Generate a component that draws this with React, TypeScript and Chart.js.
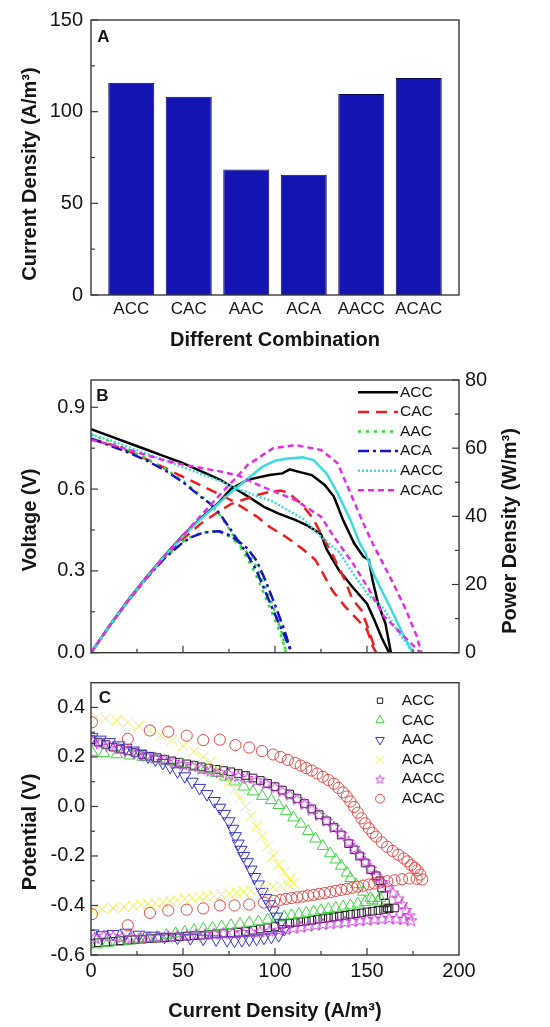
import React, { useEffect, useRef } from 'react';
import { Chart, registerables } from 'chart.js';
import { drawPoint } from 'chart.js/helpers';

Chart.register(...registerables);

const FONT = "'Liberation Sans', Arial, Helvetica, sans-serif";
const TEXT = '#151515';

// ---------------- Panel A data ----------------
const comboLabels = ['ACC', 'CAC', 'AAC', 'ACA', 'AACC', 'ACAC'];
const comboPositions = [1, 2, 3, 4, 5, 6];
const comboCurrent = [115.8, 108.2, 68.5, 65.6, 109.6, 118.3];
const aTickValues = [0, 50, 100, 150];
const aTickLabels = ['0', '50', '100', '150'];
const aMinorTicks = [25, 75, 125];

// ---------------- Panel B data (x = current density, y = voltage / power) ----------------
const sampleNames = ['ACC', 'CAC', 'AAC', 'ACA', 'AACC', 'ACAC'];

const accVoltage = [[0,0.82],[10,0.795],[20,0.77],[30,0.745],[40,0.72],[50,0.695],[60,0.665],[70,0.635],[78,0.603],[86,0.57],[94,0.535],[102,0.51],[111,0.487],[118,0.465],[125,0.435],[128,0.38],[131,0.345],[135,0.3],[142,0.242],[150,0.18],[154,0.12],[158,0.055],[162,0]];
const accPower = [[0,0],[10,7.9],[20,15.3],[30,22.1],[40,28.5],[50,34.4],[60,39.6],[70,44.3],[76,48],[85,50.7],[97,52.1],[104,52.6],[108,53.8],[112,53.2],[120,52.1],[127,49.2],[132,45.8],[137,38.9],[143,32.1],[148,28.2],[151,27.2],[153,21.3],[156,14.5],[160,8.6],[163,0]];

const cacVoltage = [[0,0.785],[10,0.765],[20,0.74],[30,0.71],[40,0.678],[50,0.645],[60,0.613],[70,0.58],[76,0.56],[90,0.5],[97,0.462],[107,0.42],[115,0.38],[122,0.34],[131,0.23],[138,0.17],[145,0.12],[150,0.085],[153,0.025],[155,0]];
const cacPower = [[0,0],[10,7.8],[20,15.1],[30,21.8],[40,28],[50,33.4],[60,38],[70,41.6],[76,43.6],[90,46.2],[97,47.2],[103,47.6],[107,47],[114,43.8],[120,39.9],[125,35],[131,29],[138,21.3],[142,15.7],[147,12.5],[151,6.6],[155,0]];

const aacVoltage = [[0,0.8],[10,0.775],[20,0.745],[30,0.712],[40,0.675],[50,0.63],[60,0.575],[65,0.545],[70,0.505],[75,0.455],[80,0.4],[85,0.345],[90,0.28],[95,0.2],[100,0.12],[104,0.05],[106,0]];
const aacPower = [[0,0],[10,7.8],[20,15.1],[30,21.8],[40,27.8],[50,32.6],[55,34.2],[60,35.2],[65,35.6],[70,35.4],[75,34.1],[80,32],[85,29.3],[90,25.2],[95,19],[100,12],[104,5.2],[106,0]];

const acaVoltage = [[0,0.785],[10,0.76],[20,0.735],[30,0.705],[40,0.67],[50,0.625],[60,0.57],[65,0.545],[70,0.51],[75,0.46],[80,0.41],[85,0.36],[90,0.3],[95,0.22],[100,0.14],[105,0.065],[109,0]];
const acaPower = [[0,0],[10,7.8],[20,15.1],[30,21.8],[40,27.7],[50,32.4],[55,34],[60,35],[65,35.5],[70,35.6],[75,34.5],[80,32.8],[85,30.6],[90,27],[95,21],[100,14],[105,6.8],[109,0]];

const aaccVoltage = [[0,0.8],[10,0.78],[20,0.755],[30,0.73],[40,0.705],[50,0.68],[60,0.655],[70,0.63],[81,0.597],[99,0.554],[116,0.487],[125,0.425],[135,0.368],[142,0.294],[151,0.209],[158,0.172],[166,0.086],[175,0]];
const aaccPower = [[0,0],[10,7.9],[20,15.2],[30,22],[40,28.4],[50,34.2],[60,39.4],[70,44.1],[76,47],[84,50.5],[93,54.5],[100,56.3],[107,57],[115,57.3],[121,56.5],[128,52.6],[134,46.8],[141,38.9],[146,32.2],[149,29.4],[154,22.6],[163,12.8],[170,4.9],[175,0]];

const acacVoltage = [[0,0.78],[10,0.765],[20,0.745],[30,0.725],[40,0.705],[50,0.69],[60,0.677],[70,0.665],[80,0.65],[93,0.609],[111,0.56],[125,0.499],[132,0.425],[142,0.331],[151,0.233],[159,0.135],[170,0.061],[179,0]];
const acacPower = [[0,0],[10,7.8],[20,15.1],[30,21.9],[40,28.3],[50,34.4],[60,40.4],[70,46.3],[80,52],[85,55],[99,60],[111,60.9],[125,59.5],[134,55.6],[141,46.8],[148,38],[153,32.1],[156,29],[164,20.6],[171,12.8],[177,4.9],[179.5,0]];

const bVoltTicks = [0, 0.3, 0.6, 0.9];
const bVoltTickLabels = ['0.0', '0.3', '0.6', '0.9'];
const bVoltMinor = [0.15, 0.45, 0.75];
const bPowerTicks = [0, 20, 40, 60, 80];
const bPowerTickLabels = ['0', '20', '40', '60', '80'];
const bPowerMinor = [10, 30, 50, 70];

// ---------------- Panel C data (x = current density, y = potential) ----------------
const accPotential = [[0,0.27],[4,0.26],[8,0.25],[12,0.24],[16,0.232],[20,0.225],[24,0.218],[28,0.21],[32,0.203],[36,0.197],[40,0.19],[44,0.184],[48,0.178],[52,0.172],[56,0.166],[60,0.16],[64,0.155],[68,0.15],[72,0.145],[76,0.14],[80,0.133],[84,0.125],[88,0.115],[92,0.105],[96,0.093],[100,0.08],[104,0.066],[108,0.05],[112,0.032],[116,0.012],[120,-0.01],[124,-0.033],[128,-0.058],[132,-0.085],[136,-0.115],[140,-0.15],[143,-0.175],[146,-0.2],[149,-0.228],[152,-0.255],[155,-0.28],[157,-0.3],[158,-0.33],[159,-0.36],[160,-0.39],[161,-0.41],[165,-0.41],[162,-0.413],[159,-0.416],[156,-0.42],[153,-0.423],[150,-0.426],[147,-0.43],[144,-0.433],[141,-0.436],[138,-0.44],[135,-0.443],[132,-0.446],[129,-0.45],[126,-0.453],[123,-0.456],[120,-0.46],[117,-0.463],[114,-0.466],[111,-0.469],[108,-0.472],[104,-0.475],[100,-0.485],[96,-0.49],[92,-0.495],[88,-0.5],[84,-0.505],[80,-0.508],[76,-0.51],[72,-0.512],[68,-0.515],[64,-0.517],[60,-0.52],[56,-0.522],[52,-0.524],[48,-0.526],[44,-0.528],[40,-0.53],[36,-0.532],[32,-0.534],[28,-0.536],[24,-0.538],[20,-0.54],[16,-0.542],[12,-0.545],[8,-0.548],[4,-0.55],[0,-0.553]];

const cacPotential = [[0.5,0.22],[7,0.215],[14,0.21],[21,0.205],[28,0.2],[35,0.192],[42,0.183],[49,0.172],[56,0.16],[62,0.148],[68,0.135],[73,0.12],[78,0.1],[83,0.08],[88,0.06],[93,0.042],[98,0.025],[102,0.005],[106,-0.02],[110,-0.045],[114,-0.07],[118,-0.1],[122,-0.13],[126,-0.16],[130,-0.19],[133,-0.215],[136,-0.24],[139,-0.268],[141,-0.29],[144,-0.315],[148,-0.345],[152,-0.37],[156,-0.385],[157,-0.37],[153,-0.38],[149,-0.387],[145,-0.393],[141,-0.4],[137,-0.405],[133,-0.41],[129,-0.415],[125,-0.42],[121,-0.425],[117,-0.43],[113,-0.435],[109,-0.44],[105,-0.445],[101,-0.45],[96,-0.458],[91,-0.465],[86,-0.47],[81,-0.475],[76,-0.48],[71,-0.485],[66,-0.49],[61,-0.495],[56,-0.5],[51,-0.507],[46,-0.513],[41,-0.52],[36,-0.527],[31,-0.533],[26,-0.538],[21,-0.543],[15,-0.548],[9,-0.553],[3,-0.558]];

const aacPotential = [[0.5,0.28],[5,0.27],[10,0.26],[15,0.247],[19,0.237],[23,0.226],[27,0.214],[31,0.202],[35,0.19],[39,0.176],[43,0.16],[47,0.142],[51,0.122],[55,0.1],[59,0.075],[63,0.05],[67,0.022],[70,-0.005],[72.5,-0.03],[75,-0.06],[77,-0.09],[78.5,-0.12],[80,-0.15],[81.5,-0.175],[83,-0.2],[85,-0.225],[87,-0.255],[89,-0.285],[91,-0.315],[93,-0.345],[95,-0.37],[97,-0.395],[99,-0.42],[101,-0.445],[103,-0.47],[105,-0.495],[102,-0.52],[98,-0.526],[94,-0.53],[90,-0.534],[86,-0.537],[82,-0.54],[78,-0.542],[74,-0.54],[68,-0.537],[61,-0.534],[54,-0.532],[47,-0.53],[40,-0.526],[33,-0.522],[26,-0.518],[19,-0.51],[12,-0.515],[6,-0.52],[1,-0.513]];

const acaPotential = [[3,0.36],[8,0.355],[14,0.348],[20,0.34],[26,0.325],[32,0.307],[38,0.287],[44,0.267],[50,0.245],[56,0.222],[61,0.2],[65,0.18],[69,0.15],[72,0.128],[75,0.1],[78,0.068],[81,0.035],[84,0],[87,-0.04],[90,-0.08],[93,-0.12],[96,-0.16],[99,-0.2],[102,-0.235],[105,-0.265],[108,-0.295],[110,-0.31],[107,-0.315],[103,-0.32],[99,-0.325],[95,-0.33],[91,-0.335],[87,-0.34],[83,-0.344],[79,-0.348],[75,-0.352],[71,-0.356],[67,-0.36],[63,-0.363],[59,-0.366],[55,-0.37],[51,-0.374],[47,-0.378],[43,-0.382],[39,-0.386],[35,-0.39],[31,-0.394],[27,-0.398],[23,-0.402],[18,-0.406],[12,-0.41],[6,-0.415],[1,-0.42]];

const aaccPotential = [[1,0.263],[5,0.255],[10,0.245],[15,0.235],[20,0.225],[25,0.215],[30,0.205],[35,0.197],[40,0.188],[45,0.18],[50,0.171],[55,0.162],[60,0.153],[65,0.145],[70,0.138],[75,0.13],[80,0.123],[85,0.115],[90,0.105],[95,0.093],[100,0.077],[104,0.062],[108,0.047],[112,0.03],[116,0.01],[120,-0.012],[124,-0.034],[128,-0.057],[132,-0.082],[136,-0.11],[140,-0.142],[143,-0.168],[146,-0.195],[149,-0.223],[152,-0.25],[155,-0.28],[158,-0.305],[161,-0.327],[164,-0.348],[167,-0.372],[169,-0.395],[171,-0.418],[173,-0.44],[174,-0.46],[170,-0.455],[166,-0.453],[162,-0.45],[158,-0.453],[154,-0.455],[150,-0.457],[146,-0.46],[142,-0.463],[138,-0.466],[134,-0.469],[130,-0.472],[126,-0.475],[122,-0.478],[118,-0.482],[114,-0.486],[110,-0.49],[106,-0.494],[102,-0.498],[97,-0.502],[92,-0.505],[87,-0.507],[82,-0.508],[77,-0.51],[72,-0.512],[67,-0.514],[62,-0.516],[57,-0.518],[52,-0.52],[47,-0.522],[42,-0.525],[37,-0.527],[32,-0.528],[27,-0.53],[22,-0.53],[17,-0.527],[12,-0.524],[7,-0.522],[2,-0.53]];

const acacPotential = [[0.5,0.34],[20,0.273],[32,0.307],[42,0.302],[52,0.286],[61,0.268],[70,0.27],[78.5,0.248],[86,0.238],[93,0.224],[99,0.21],[103,0.2],[107,0.188],[111,0.176],[114,0.165],[117,0.155],[120,0.145],[123,0.133],[126,0.12],[129,0.107],[132,0.092],[134.5,0.075],[137,0.057],[139,0.04],[141,0.02],[143,-0.002],[145,-0.025],[147,-0.048],[149,-0.068],[151,-0.088],[153,-0.106],[155,-0.122],[158,-0.145],[161,-0.163],[164,-0.18],[167,-0.195],[170,-0.21],[172,-0.222],[174,-0.237],[176,-0.248],[177.5,-0.258],[179,-0.275],[180,-0.295],[177,-0.292],[173,-0.291],[169,-0.294],[165,-0.298],[161,-0.302],[157,-0.307],[154,-0.311],[151,-0.315],[148,-0.32],[145,-0.324],[142,-0.328],[139,-0.333],[136,-0.337],[133,-0.341],[130,-0.346],[127,-0.35],[124,-0.353],[121,-0.357],[118,-0.36],[115,-0.364],[112,-0.367],[109,-0.37],[106,-0.373],[103,-0.377],[99.5,-0.381],[94,-0.388],[86,-0.396],[78,-0.4],[70,-0.4],[61,-0.412],[52,-0.417],[42,-0.42],[32,-0.43],[20,-0.48],[0.5,-0.435]];

const cYTicks = [-0.6, -0.4, -0.2, 0, 0.2, 0.4];
const cYTickLabels = ['-0.6', '-0.4', '-0.2', '0.0', '0.2', '0.4'];
const cYMinor = [-0.5, -0.3, -0.1, 0.1, 0.3];
const xTicks = [0, 50, 100, 150, 200];
const xTickLabels = ['0', '50', '100', '150', '200'];
const xMinor = [25, 75, 125, 175];
const xMajorInner = [50, 100, 150];

// ---------------- styles ----------------
const lineColors = ['#000000', '#f01c1c', '#33dd33', '#1414c4', '#3cdcdc', '#e22ee2'];
const lineDashes = [[], [11, 7], [3, 5], [11, 4, 3, 4], [2, 2], [6, 4]];
const powerDashes = [[], [11, 7], [3, 5], [11, 4, 3, 4], [], [6, 4]];
const markerColors = ['#1a1a1a', '#3fd43f', '#3434cc', '#eeee3c', '#c63cd8', '#e04848'];

const toXY = (pts: number[][]) => pts.map(p => ({ x: p[0], y: p[1] }));

function makeStar(color: string, size: number, rOut: number, rIn: number) {
  const c = document.createElement('canvas');
  c.width = size; c.height = size;
  const g = c.getContext('2d')!;
  g.strokeStyle = color; g.lineWidth = 1;
  g.beginPath();
  for (let k = 0; k < 10; k++) {
    const r = k % 2 ? rIn : rOut;
    const a = -Math.PI / 2 + (k * Math.PI) / 5;
    const px = size / 2 + r * Math.cos(a), py = size / 2 + 0.5 + r * Math.sin(a);
    if (k === 0) g.moveTo(px, py); else g.lineTo(px, py);
  }
  g.closePath(); g.stroke();
  return c;
}

type TextItem = { text: string; x: number; y: number; size: number; bold?: boolean; rotate?: boolean };
type TickSet = { scale: string; side: 'left' | 'right' | 'bottom'; values: number[]; len: number };

function makeDecor(cfg: { ticks: TickSet[]; texts: TextItem[]; lineLegend?: any; pointLegend?: any }) {
  return {
    id: 'decor',
    afterDatasetsDraw(chart: any) {
      const { ctx, chartArea: ca } = chart;
      ctx.save();
      ctx.strokeStyle = '#3a3a3a';
      ctx.lineWidth = 1.4;
      ctx.setLineDash([]);
      ctx.strokeRect(ca.left, ca.top, ca.right - ca.left, ca.bottom - ca.top);
      ctx.lineWidth = 1.2;
      for (const t of cfg.ticks) {
        const s = chart.scales[t.scale];
        for (const v of t.values) {
          const p = s.getPixelForValue(v);
          ctx.beginPath();
          if (t.side === 'left') { ctx.moveTo(ca.left, p); ctx.lineTo(ca.left + t.len, p); }
          else if (t.side === 'right') { ctx.moveTo(ca.right, p); ctx.lineTo(ca.right - t.len, p); }
          else { ctx.moveTo(p, ca.bottom); ctx.lineTo(p, ca.bottom - t.len); }
          ctx.stroke();
        }
      }
      ctx.fillStyle = TEXT;
      for (const tx of cfg.texts) {
        ctx.save();
        ctx.font = `${tx.bold ? 'bold ' : ''}${tx.size}px ${FONT}`;
        ctx.textAlign = 'center';
        ctx.textBaseline = 'middle';
        ctx.translate(tx.x, tx.y);
        if (tx.rotate) ctx.rotate(-Math.PI / 2);
        ctx.fillText(tx.text, 0, 0);
        ctx.restore();
      }
      const L = cfg.lineLegend;
      if (L) {
        chart.data.datasets.slice(0, L.count).forEach((ds: any, i: number) => {
          const y = L.y0 + i * L.dy;
          ctx.save();
          ctx.strokeStyle = ds.borderColor;
          ctx.lineWidth = ds.borderWidth;
          ctx.setLineDash(ds.borderDash || []);
          ctx.beginPath(); ctx.moveTo(L.x0, y); ctx.lineTo(L.x1, y); ctx.stroke();
          ctx.restore();
          ctx.font = `${L.size}px ${FONT}`;
          ctx.textAlign = 'left'; ctx.textBaseline = 'middle';
          ctx.fillStyle = TEXT;
          ctx.fillText(ds.label, L.tx, y);
        });
      }
      const P = cfg.pointLegend;
      if (P) {
        chart.data.datasets.forEach((ds: any, i: number) => {
          const y = P.y0 + i * P.dy;
          ctx.save();
          ctx.strokeStyle = ds.borderColor;
          ctx.fillStyle = 'rgba(0,0,0,0)';
          ctx.lineWidth = 1;
          drawPoint(ctx, { pointStyle: ds.legendStyle || ds.pointStyle, rotation: ds.pointRotation || 0, radius: ds.legendRadius, borderWidth: 1 } as any, P.mx, y);
          ctx.restore();
          ctx.font = `${P.size}px ${FONT}`;
          ctx.textAlign = 'left'; ctx.textBaseline = 'middle';
          ctx.fillStyle = TEXT;
          ctx.fillText(ds.label, P.tx, y);
        });
      }
      ctx.restore();
    },
  };
}

const tickFont = { family: FONT, size: 20 };
const titleFont = { family: FONT, size: 20, weight: 'bold' as const };
const hidden = { display: false, drawTicks: false };

export default function App() {
  const aRef = useRef<HTMLCanvasElement>(null);
  const bRef = useRef<HTMLCanvasElement>(null);
  const cRef = useRef<HTMLCanvasElement>(null);

  useEffect(() => {
    const charts: Chart[] = [];

    // ---------- Panel A ----------
    charts.push(new Chart(aRef.current!, {
      type: 'bar',
      data: {
        datasets: [{
          label: 'Current Density',
          data: comboPositions.map((x, i) => ({ x, y: comboCurrent[i] })),
          backgroundColor: '#1414b2',
          borderColor: '#0a0a50',
          borderWidth: 1,
          categoryPercentage: 1,
          barPercentage: 0.8,
        }],
      },
      options: {
        responsive: false,
        animation: false,
        events: [],
        layout: { padding: { top: 19, right: 91, left: 0, bottom: 0 } },
        plugins: { legend: { display: false }, tooltip: { enabled: false } },
        scales: {
          x: {
            type: 'linear', min: 0.3, max: 6.7, offset: false,
            grid: hidden, border: { display: false },
            afterBuildTicks: (s: any) => { s.ticks = comboPositions.map(v => ({ value: v })); },
            ticks: { callback: (_v: any, i: number) => comboLabels[i], font: { family: FONT, size: 17 }, color: TEXT, padding: 4, maxRotation: 0, autoSkip: false },
            title: { display: true, text: 'Different Combination', font: titleFont, color: TEXT, padding: { top: 0, bottom: 0 } },
            afterFit: (s: any) => { s.height = 57; },
          },
          y: {
            min: 0, max: 150,
            grid: hidden, border: { display: false },
            afterBuildTicks: (s: any) => { s.ticks = aTickValues.map(v => ({ value: v })); },
            ticks: { callback: (_v: any, i: number) => aTickLabels[i], font: tickFont, color: TEXT, padding: 8, autoSkip: false },
            afterFit: (s: any) => { s.width = 91; },
          },
        },
      } as any,
      plugins: [makeDecor({
        ticks: [
          { scale: 'y', side: 'left', values: aTickValues, len: 7 },
          { scale: 'y', side: 'left', values: aMinorTicks, len: 4 },
        ],
        texts: [
          { text: 'A', x: 103.5, y: 37.5, size: 17, bold: true },
          { text: 'Current Density (A/m³)', x: 30, y: 174, size: 20, bold: true, rotate: true },
        ],
      })],
    }));

    // ---------- Panel B ----------
    const voltSets = [accVoltage, cacVoltage, aacVoltage, acaVoltage, aaccVoltage, acacVoltage];
    const powerSets = [accPower, cacPower, aacPower, acaPower, aaccPower, acacPower];
    const bDatasets: any[] = [];
    voltSets.forEach((pts, i) => bDatasets.push({
      label: sampleNames[i], data: toXY(pts), yAxisID: 'y', showLine: true, pointRadius: 0,
      borderColor: lineColors[i], backgroundColor: lineColors[i], borderWidth: 2.5, borderDash: lineDashes[i], order: 6 - i,
    }));
    powerSets.forEach((pts, i) => bDatasets.push({
      label: sampleNames[i] + ' power', data: toXY(pts), yAxisID: 'y1', showLine: true, pointRadius: 0,
      borderColor: lineColors[i], backgroundColor: lineColors[i], borderWidth: 2.5, borderDash: powerDashes[i], order: 6 - i,
    }));
    charts.push(new Chart(bRef.current!, {
      type: 'scatter',
      data: { datasets: bDatasets },
      options: {
        responsive: false,
        animation: false,
        events: [],
        layout: { padding: { top: 28, right: 0, left: 0, bottom: 29.3 } },
        plugins: { legend: { display: false }, tooltip: { enabled: false } },
        scales: {
          x: { type: 'linear', min: 0, max: 200, display: false },
          y: {
            position: 'left', min: 0, max: 1.0,
            grid: hidden, border: { display: false },
            afterBuildTicks: (s: any) => { s.ticks = bVoltTicks.map(v => ({ value: v })); },
            ticks: { callback: (_v: any, i: number) => bVoltTickLabels[i], font: tickFont, color: TEXT, padding: 6, autoSkip: false },
            afterFit: (s: any) => { s.width = 91; },
          },
          y1: {
            type: 'linear', position: 'right', min: 0, max: 80,
            grid: hidden, border: { display: false },
            afterBuildTicks: (s: any) => { s.ticks = bPowerTicks.map(v => ({ value: v })); },
            ticks: { callback: (_v: any, i: number) => bPowerTickLabels[i], font: tickFont, color: TEXT, padding: 6, autoSkip: false },
            afterFit: (s: any) => { s.width = 91; },
          },
        },
      } as any,
      plugins: [makeDecor({
        ticks: [
          { scale: 'y', side: 'left', values: bVoltTicks, len: 7 },
          { scale: 'y', side: 'left', values: bVoltMinor, len: 4 },
          { scale: 'y1', side: 'right', values: bPowerTicks, len: 7 },
          { scale: 'y1', side: 'right', values: bPowerMinor, len: 4 },
          { scale: 'x', side: 'bottom', values: xMajorInner, len: 7 },
          { scale: 'x', side: 'bottom', values: xMinor, len: 4 },
        ],
        texts: [
          { text: 'B', x: 102.5, y: 44, size: 17, bold: true },
          { text: 'Voltage (V)', x: 30, y: 168, size: 20, bold: true, rotate: true },
          { text: 'Power Density (W/m³)', x: 510, y: 179, size: 20, bold: true, rotate: true },
        ],
        lineLegend: { count: 6, x0: 358, x1: 398, tx: 400, y0: 40.3, dy: 19.6, size: 15.5 },
      })],
    }));

    // ---------- Panel C ----------
    const starData = makeStar(markerColors[4], 14, 6.2, 2.7);
    const starLegend = makeStar(markerColors[4], 11, 4.6, 2);
    const potSets = [accPotential, cacPotential, aacPotential, acaPotential, aaccPotential, acacPotential];
    const styles: any[] = ['rect', 'triangle', 'triangle', 'crossRot', starData, 'circle'];
    const legendStyles: any[] = ['rect', 'triangle', 'triangle', 'crossRot', starLegend, 'circle'];
    const rotations = [0, 0, 180, 0, 0, 0];
    const radii = [5.4, 6.6, 7, 7.6, 6, 5.6];
    const legendRadii = [3.8, 4.8, 5, 5.8, 4.5, 4.4];
    const cDatasets = potSets.map((pts, i) => ({
      label: sampleNames[i], data: toXY(pts), showLine: false,
      pointStyle: styles[i], legendStyle: legendStyles[i], pointRotation: rotations[i],
      pointRadius: radii[i], legendRadius: legendRadii[i], pointBorderWidth: 1,
      borderColor: markerColors[i], backgroundColor: 'rgba(0,0,0,0)', order: 6 - i,
    }));
    charts.push(new Chart(cRef.current!, {
      type: 'scatter',
      data: { datasets: cDatasets as any },
      options: {
        responsive: false,
        animation: false,
        events: [],
        layout: { padding: { top: 22.7, right: 91, left: 0, bottom: 0 } },
        plugins: { legend: { display: false }, tooltip: { enabled: false } },
        scales: {
          x: {
            type: 'linear', min: 0, max: 200,
            grid: hidden, border: { display: false },
            afterBuildTicks: (s: any) => { s.ticks = xTicks.map(v => ({ value: v })); },
            ticks: { callback: (_v: any, i: number) => xTickLabels[i], font: tickFont, color: TEXT, padding: 4.7, maxRotation: 0, autoSkip: false },
            title: { display: true, text: 'Current Density (A/m³)', font: titleFont, color: TEXT, padding: { top: 0, bottom: 3.3 } },
            afterFit: (s: any) => { s.height = 72; },
          },
          y: {
            min: -0.6, max: 0.5,
            grid: hidden, border: { display: false },
            afterBuildTicks: (s: any) => { s.ticks = cYTicks.map(v => ({ value: v })); },
            ticks: { callback: (_v: any, i: number) => cYTickLabels[i], font: tickFont, color: TEXT, padding: 6, autoSkip: false },
            afterFit: (s: any) => { s.width = 91; },
          },
        },
      } as any,
      plugins: [makeDecor({
        ticks: [
          { scale: 'y', side: 'left', values: cYTicks, len: 7 },
          { scale: 'y', side: 'left', values: cYMinor, len: 4 },
          { scale: 'x', side: 'bottom', values: xMajorInner, len: 7 },
          { scale: 'x', side: 'bottom', values: xMinor, len: 4 },
        ],
        texts: [
          { text: 'C', x: 105, y: 38.5, size: 17, bold: true },
          { text: 'Potential (V)', x: 30, y: 172, size: 20, bold: true, rotate: true },
        ],
        pointLegend: { mx: 380, tx: 401.7, y0: 40.7, dy: 19.6, size: 15.5 },
      })],
    }));

    return () => charts.forEach(c => c.destroy());
  }, []);

  return (
    <div style={{ position: 'absolute', left: 0, top: 0, width: 550, height: 1027, background: '#ffffff', overflow: 'hidden' }}>
      <canvas ref={aRef} width={550} height={352} style={{ position: 'absolute', left: 0, top: 0 }} />
      <canvas ref={bRef} width={550} height={330} style={{ position: 'absolute', left: 0, top: 352 }} />
      <canvas ref={cRef} width={550} height={367} style={{ position: 'absolute', left: 0, top: 660 }} />
    </div>
  );
}
